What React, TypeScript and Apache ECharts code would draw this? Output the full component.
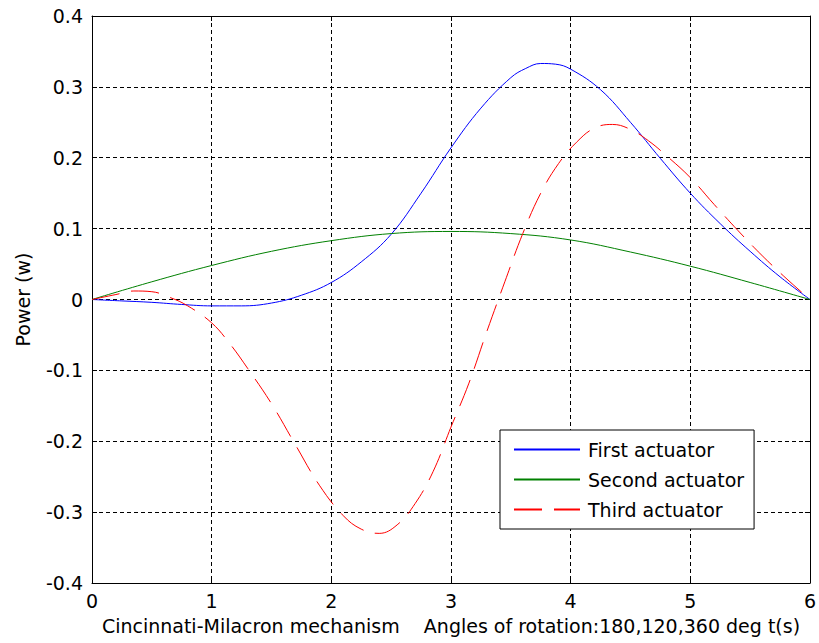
import React, { useEffect, useRef } from "react";
import * as echarts from "echarts";

const xTicks = [0, 1, 2, 3, 4, 5, 6];
const yTickLabels = ["0.4", "0.3", "0.2", "0.1", "0", "-0.1", "-0.2", "-0.3", "-0.4"];

const firstT = [0, 0.25, 0.5, 0.75, 1, 1.25, 1.5, 1.75, 2, 2.25, 2.5, 2.75, 3, 3.25, 3.5, 3.625, 3.75, 3.875, 4, 4.25, 4.5, 4.75, 5, 5.25, 5.5, 5.75, 6];
const firstP = [0, -0.002, -0.004, -0.007, -0.009, -0.009, -0.005, 0.006, 0.024, 0.053, 0.092, 0.15, 0.214, 0.27, 0.313, 0.326, 0.333, 0.332, 0.325, 0.296, 0.25, 0.199, 0.15, 0.107, 0.068, 0.032, 0];

const secondT = [0, 0.5, 1, 1.5, 2, 2.5, 3, 3.5, 4, 4.5, 5, 5.5, 6];
const secondP = [0, 0.025, 0.048, 0.068, 0.083, 0.093, 0.096, 0.093, 0.084, 0.067, 0.047, 0.024, 0];

const thirdT = [0, 0.2, 0.35, 0.5, 0.65, 0.8, 1.0, 1.15, 1.3, 1.5, 1.7, 1.9, 2.1, 2.25, 2.4, 2.55, 2.7, 2.85, 3.0, 3.15, 3.3, 3.45, 3.6, 3.75, 3.9, 4.05, 4.2, 4.35, 4.5, 4.65, 4.8, 5.0, 5.2, 5.4, 5.6, 5.8, 6.0];
const thirdP = [0, 0.007, 0.012, 0.011, 0.003, -0.009, -0.033, -0.062, -0.097, -0.147, -0.205, -0.262, -0.305, -0.324, -0.33, -0.318, -0.288, -0.243, -0.18, -0.118, -0.045, 0.025, 0.093, 0.15, 0.192, 0.222, 0.242, 0.247, 0.24, 0.224, 0.203, 0.172, 0.134, 0.097, 0.062, 0.03, 0];

const seriesNames = ["First actuator", "Second actuator", "Third actuator"];
const xLabel = "Cincinnati-Milacron mechanism    Angles of rotation:180,120,360 deg t(s)";
const yLabel = "Power (w)";

const FONT = "DejaVu Sans";

function pairs(t: number[], p: number[]) {
  return t.map((v, i) => [v, p[i]]);
}

export default function App() {
  const ref = useRef<HTMLDivElement>(null);
  useEffect(() => {
    if (!ref.current) return;
    const chart = echarts.init(ref.current, undefined, { renderer: "svg" });
    const axisCommon = {
      axisLine: { show: true, onZero: false, lineStyle: { color: "#000", width: 1 } },
      axisTick: { show: true, inside: true, length: 5, lineStyle: { color: "#000" } },
    };
    chart.setOption({
      animation: false,
      backgroundColor: "#fff",
      grid: { left: 92, top: 16, right: 8, bottom: 60, containLabel: false },
      xAxis: [
        {
          type: "value",
          min: 0,
          max: 6,
          interval: 1,
          ...axisCommon,
          axisLabel: {
            margin: 8,
            color: "#000",
            fontFamily: FONT,
            fontSize: 19,
            formatter: (v: number) => String(xTicks[Math.round(v)] ?? v),
          },
          splitLine: { show: true, lineStyle: { color: "#000", type: [4, 3], width: 1 } },
          name: xLabel,
          nameLocation: "middle",
          nameGap: 33,
          nameTextStyle: { color: "#000", fontFamily: FONT, fontSize: 19 },
        },
        {
          type: "value",
          position: "top",
          min: 0,
          max: 6,
          interval: 1,
          ...axisCommon,
          axisLabel: { show: false },
          splitLine: { show: false },
        },
      ],
      yAxis: [
        {
          type: "value",
          min: -0.4,
          max: 0.4,
          interval: 0.1,
          ...axisCommon,
          axisLabel: {
            margin: 9,
            color: "#000",
            fontFamily: FONT,
            fontSize: 19,
            formatter: (v: number) => {
              const idx = Math.round((0.4 - v) / 0.1);
              return yTickLabels[idx] ?? String(v);
            },
          },
          splitLine: { show: true, lineStyle: { color: "#000", type: [4, 3], width: 1 } },
          name: yLabel,
          nameLocation: "middle",
          nameGap: 60,
          nameTextStyle: { color: "#000", fontFamily: FONT, fontSize: 19 },
        },
        {
          type: "value",
          position: "right",
          min: -0.4,
          max: 0.4,
          interval: 0.1,
          ...axisCommon,
          axisLabel: { show: false },
          splitLine: { show: false },
        },
      ],
      legend: {
        orient: "vertical",
        left: 500,
        top: 430,
        backgroundColor: "#fff",
        borderColor: "#000",
        borderWidth: 1,
        padding: [10, 10, 10, 13],
        itemWidth: 66,
        itemHeight: 14,
        itemGap: 11,
        itemStyle: { opacity: 0 },
        textStyle: { color: "#000", fontFamily: FONT, fontSize: 19, padding: [0, 0, 0, 3] },
        data: seriesNames,
      },
      series: [
        {
          name: seriesNames[0],
          type: "line",
          data: pairs(firstT, firstP),
          smooth: 0.4,
          symbol: "none",
          lineStyle: { color: "#0000ff", width: 1 },
          itemStyle: { color: "#0000ff" },
        },
        {
          name: seriesNames[1],
          type: "line",
          data: pairs(secondT, secondP),
          smooth: 0.4,
          symbol: "none",
          lineStyle: { color: "#008000", width: 1 },
          itemStyle: { color: "#008000" },
        },
        {
          name: seriesNames[2],
          type: "line",
          data: pairs(thirdT, thirdP),
          smooth: 0.4,
          symbol: "none",
          lineStyle: { color: "#ff0000", width: 1, type: [28, 12] },
          itemStyle: { color: "#ff0000" },
        },
      ],
    });
    return () => chart.dispose();
  }, []);
  return (
    <div
      ref={ref}
      style={{ position: "absolute", left: 0, top: 0, width: 819, height: 643 }}
    />
  );
}
